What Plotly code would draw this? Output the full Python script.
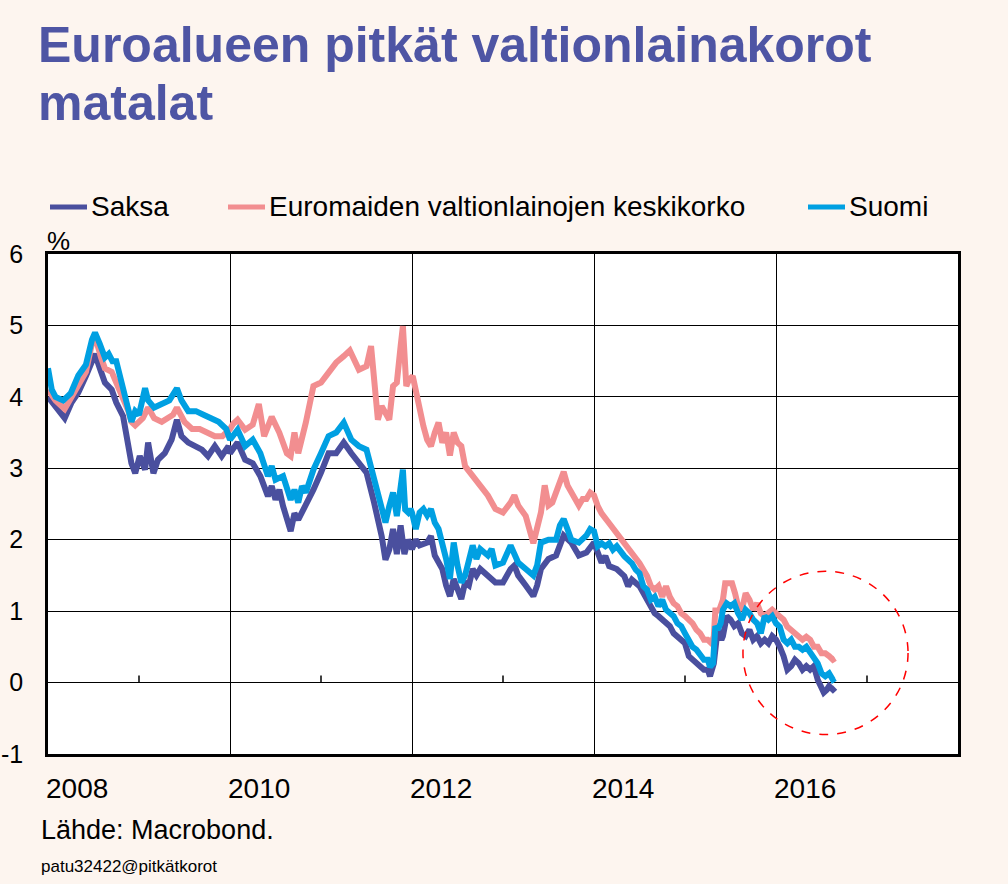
import plotly.graph_objects as go

# ---- data (months since Jan 2008, yield %) ----
saksa_m = [0,1,2.2,3.1,4,5,5.8,6.2,6.9,7.5,8.4,9,9.9,10.6,11,11.5,12.1,12.8,13.2,13.9,14.5,15.4,16.3,17,17.6,18.5,19.4,20.3,21.1,22,22.9,23.8,
           24,25,26,27,28,29,29.5,30,30.5,31,32,32.5,33,34,35,36,37,38,39,40,41,42,43,44,44.5,45,45.5,46,46.5,47,47.5,
           48,48.5,49,50,50.5,51,52,52.5,53,53.5,54,54.5,55,55.5,56,56.5,57,58,59,60,61,61.5,62,63,64,64.5,65,66,67,68,69,70,71,
           72,72.5,73,73.5,74,75,76,76.5,77,78,79,80,80.5,81,81.5,82,82.5,83,84,84.5,85,85.5,86,86.5,87,87.3,87.8,88,88.3,88.8,89,89.5,90,90.5,91,91.5,92,92.5,93,93.5,94,94.5,95,95.5,
           96,96.5,97,97.5,98,98.5,99,99.5,100,100.5,101,101.5,102,102.3,102.7,103,103.5,103.8]
saksa_v = [4.0,3.87,3.7,3.92,4.06,4.29,4.52,4.6,4.38,4.2,4.1,3.92,3.73,3.36,3.07,2.93,3.17,2.98,3.36,2.93,3.12,3.21,3.4,3.68,3.45,3.36,3.31,3.26,3.17,3.31,3.17,3.31,
           3.21,3.36,3.12,3.07,2.89,2.61,2.75,2.56,2.7,2.47,2.12,2.37,2.28,2.47,2.7,2.94,3.21,3.21,3.36,3.21,3.07,2.94,2.52,2.05,1.72,1.86,2.15,1.8,2.2,1.8,2.0,
           1.87,2.0,1.92,1.96,2.05,1.78,1.59,1.36,1.21,1.45,1.31,1.17,1.4,1.36,1.59,1.5,1.59,1.5,1.4,1.4,1.59,1.64,1.5,1.36,1.21,1.36,1.59,1.73,1.78,2.06,1.96,1.78,1.82,
           1.96,1.82,1.68,1.77,1.63,1.59,1.49,1.35,1.44,1.35,1.16,0.97,0.93,0.88,0.83,0.79,0.69,0.65,0.55,0.37,0.32,0.27,0.22,0.18,0.18,0.09,0.27,0.5,0.74,0.6,0.65,0.93,0.88,0.79,0.83,0.69,0.65,0.74,0.6,0.65,0.55,0.6,0.55,0.65,
           0.6,0.5,0.37,0.18,0.23,0.32,0.27,0.18,0.23,0.18,0.23,0.04,-0.1,-0.14,-0.1,-0.05,-0.1,-0.07]

euro_m = [0,1,2.2,3,4,5,5.8,6.2,7,7.5,8.4,9,10,10.6,11,11.5,12.5,13.2,14,15,16.5,17,18,19,20,21,22,23,24,24.4,
          25,26,27,27.8,28.5,29.5,30.5,31.5,32,32.5,33,34,35,36,37,38,39,39.8,41,42,42.6,43,43.5,44,45,45.5,46,46.5,46.8,47.25,47.6,
          48.1,48.6,49,49.5,50,50.5,51,51.5,52,52.5,53,53.5,54,54.5,55,56,57,58,59,60,61,61.5,62,63,64,64.5,65,65.5,66,66.5,67,67.5,68,68.5,69,70,70.5,71,71.5,
          72,72.5,73,74,75,76,77,77.5,78,79,79.5,80,80.5,81,81.5,82,82.5,83,83.5,84,84.5,85,85.5,86,86.5,87,87.5,87.8,88,88.5,89,89.3,89.8,90.2,90.6,91,91.5,92,92.5,93,93.5,94,94.5,95,95.5,
          96,96.5,97,97.5,98,98.5,99,99.5,100,100.5,101,101.5,102,102.5,103,103.5,103.8]
euro_v = [4.1,3.95,3.83,3.98,4.15,4.35,4.75,4.85,4.55,4.4,4.35,4.2,4.0,3.8,3.65,3.6,3.7,3.85,3.7,3.65,3.75,3.85,3.65,3.55,3.55,3.5,3.45,3.45,3.55,3.62,
          3.68,3.54,3.61,3.9,3.45,3.72,3.5,3.21,3.17,3.5,3.21,3.64,4.15,4.2,4.34,4.48,4.57,4.65,4.38,4.43,4.71,4.24,3.68,3.87,3.68,4.15,4.2,4.71,4.99,4.15,4.24,
          4.29,4.0,3.87,3.59,3.4,3.31,3.5,3.64,3.36,3.5,3.18,3.5,3.36,3.31,3.03,2.9,2.76,2.62,2.43,2.38,2.52,2.62,2.48,2.33,1.95,2.19,2.38,2.76,2.48,2.52,2.66,2.76,2.95,2.76,2.66,2.48,2.57,2.57,2.66,
          2.62,2.47,2.37,2.23,2.09,1.95,1.81,1.72,1.67,1.49,1.35,1.3,1.35,1.2,1.35,1.2,1.11,1.07,0.97,0.93,0.88,0.83,0.74,0.69,0.6,0.6,0.55,0.65,1.01,1.01,1.16,1.39,1.39,1.39,1.25,1.07,1.02,1.25,1.16,1.02,1.11,0.97,0.93,0.97,1.02,
          0.97,0.92,0.88,0.78,0.74,0.69,0.64,0.6,0.64,0.6,0.5,0.5,0.41,0.41,0.37,0.32,0.34]

suomi_m = [0,0.5,1,2,2.5,3,4,5,5.8,6.2,6.8,7.5,8,8.5,9,9.5,10,10.6,11,11.5,12,12.8,13.2,14,15,16,17,17.6,18.5,19.5,20.5,21.5,22.5,23.5,
           24,25,26,27,28,29,29.5,30,31,32,32.5,33,33.5,34,35,36,37,38,39,40,41,42,43,44,44.5,45,45.5,46,46.8,47.1,47.5,47.8,
           48,48.5,49,49.5,50,50.5,51,51.5,52,52.5,53,53.5,54,54.5,55,55.5,56,56.5,57,58,58.5,59,60,61,61.5,62,63,64,64.5,65,66,67,67.5,68,68.5,69,70,71,71.5,
           72,72.5,73,73.5,74,74.5,75,76,77,77.5,78,78.5,79,79.5,80,80.5,81,81.5,82,82.5,83,83.5,84,84.5,85,85.5,86,86.5,87,87.3,87.7,88,88.3,88.7,89,89.5,90,90.5,91,91.5,92,92.5,93,93.5,94,94.5,95,95.5,
           96,96.5,97,97.5,98,98.5,99,99.5,100,100.5,101,101.5,102,102.5,103,103.5,103.8]
suomi_v = [4.4,4.1,4.0,3.95,4.0,4.05,4.3,4.45,4.8,4.9,4.75,4.55,4.6,4.5,4.5,4.3,4.05,3.8,3.65,3.8,3.75,4.12,3.95,3.85,3.9,3.95,4.12,3.95,3.8,3.8,3.75,3.7,3.65,3.55,
           3.4,3.54,3.31,3.4,3.21,2.89,3.03,2.84,2.89,2.56,2.7,2.52,2.75,2.66,2.98,3.21,3.45,3.5,3.64,3.4,3.31,3.26,2.84,2.47,2.24,2.47,2.66,2.33,2.98,2.42,2.38,2.43,
           2.38,2.15,2.38,2.43,2.34,2.43,2.24,2.15,1.96,1.73,1.45,1.96,1.64,1.4,1.5,1.68,1.92,1.73,1.87,1.78,1.87,1.64,1.68,1.92,1.82,1.68,1.59,1.5,1.64,1.96,2.0,2.0,2.2,2.29,2.15,2.0,1.96,2.06,2.15,
           2.12,1.91,1.95,1.91,1.95,1.86,1.91,1.77,1.67,1.58,1.53,1.35,1.3,1.16,1.2,1.07,1.16,1.02,0.97,0.93,0.83,0.79,0.69,0.6,0.5,0.46,0.37,0.32,0.32,0.22,0.27,0.79,0.74,0.83,1.02,1.11,1.07,1.11,0.97,0.88,1.02,0.97,0.88,0.83,0.69,0.93,0.88,0.93,
           0.83,0.78,0.6,0.55,0.6,0.5,0.5,0.46,0.5,0.41,0.32,0.27,0.13,0.09,0.13,0.04,0.06]

series_names = ["Saksa", "Euromaiden valtionlainojen keskikorko", "Suomi"]
series_colors = ["#4A4F9E", "#F28E90", "#00A0E2"]
year_labels = [2008, 2010, 2012, 2014, 2016]
minor_tick_years = [2009, 2011, 2013, 2015, 2017]
y_ticks = [-1, 0, 1, 2, 3, 4, 5, 6]

assert len(saksa_m) == len(saksa_v), (len(saksa_m), len(saksa_v))
assert len(euro_m) == len(euro_v), (len(euro_m), len(euro_v))
assert len(suomi_m) == len(suomi_v), (len(suomi_m), len(suomi_v))

def to_year(ms):
    return [2008 + m / 12.0 for m in ms]

FONT = "Liberation Sans, Arial, sans-serif"
BG = "#FDF5EF"
TITLE_COLOR = "#4E55A4"

fig = go.Figure()
for (ms, vs), name, col in zip([(saksa_m, saksa_v), (euro_m, euro_v), (suomi_m, suomi_v)],
                               series_names, series_colors):
    fig.add_trace(go.Scatter(x=to_year(ms), y=vs, mode="lines", name=name,
                             line=dict(color=col, width=6), showlegend=False))

# plot geometry (pixels)
L, R, T, B = 48, 50, 254, 130
W, H = 1008, 884
pw, ph = W - L - R, H - T - B

def px_to_paper_x(px):
    return (px - L) / pw

def px_to_paper_y(py):
    return (H - B - py) / ph

annotations = []
shapes = []

# custom legend
legend_x = [50, 228, 808]
for xpos, name, col in zip(legend_x, series_names, series_colors):
    shapes.append(dict(type="line", xref="paper", yref="paper",
                       x0=px_to_paper_x(xpos), x1=px_to_paper_x(xpos + 37),
                       y0=px_to_paper_y(207), y1=px_to_paper_y(207),
                       line=dict(color=col, width=5)))
    annotations.append(dict(text=name, xref="paper", yref="paper",
                            x=px_to_paper_x(xpos + 39), y=px_to_paper_y(207),
                            xanchor="left", yanchor="middle", showarrow=False,
                            font=dict(family=FONT, size=28, color="black")))

# year labels
for yr in year_labels:
    annotations.append(dict(text=str(yr), xref="x", yref="paper", x=yr + 0.32,
                            y=px_to_paper_y(788), xanchor="center", yanchor="middle",
                            showarrow=False, font=dict(family=FONT, size=28, color="black")))

# minor ticks on zero line
for yr in minor_tick_years:
    shapes.append(dict(type="line", xref="x", yref="y", x0=yr, x1=yr, y0=0, y1=0.1,
                       line=dict(color="black", width=1.5)))

# dashed circle highlight
shapes.append(dict(type="circle", xref="x", yref="y",
                   x0=2015.637, x1=2017.451, y0=-0.728, y1=1.558,
                   line=dict(color="#FF0000", width=1.5, dash="dash")))

# % label
annotations.append(dict(text="%", xref="paper", yref="paper", x=px_to_paper_x(45),
                        y=px_to_paper_y(241), xanchor="left", yanchor="middle",
                        showarrow=False, font=dict(family=FONT, size=26, color="black")))

# title lines
annotations.append(dict(text="<b>Euroalueen pitkät valtionlainakorot</b>", xref="paper", yref="paper",
                        x=px_to_paper_x(36), y=px_to_paper_y(45), xanchor="left", yanchor="middle",
                        showarrow=False, font=dict(family=FONT, size=50, color=TITLE_COLOR)))
annotations.append(dict(text="<b>matalat</b>", xref="paper", yref="paper",
                        x=px_to_paper_x(36), y=px_to_paper_y(103), xanchor="left", yanchor="middle",
                        showarrow=False, font=dict(family=FONT, size=50, color=TITLE_COLOR)))

# source and footer
annotations.append(dict(text="Lähde: Macrobond.", xref="paper", yref="paper",
                        x=px_to_paper_x(39), y=px_to_paper_y(830), xanchor="left", yanchor="middle",
                        showarrow=False, font=dict(family=FONT, size=27, color="black")))
annotations.append(dict(text="patu32422@pitkätkorot", xref="paper", yref="paper",
                        x=px_to_paper_x(39), y=px_to_paper_y(866), xanchor="left", yanchor="middle",
                        showarrow=False, font=dict(family=FONT, size=17, color="black")))

fig.update_layout(
    width=W, height=H,
    margin=dict(l=L, r=R, t=T, b=B, autoexpand=False),
    paper_bgcolor=BG, plot_bgcolor="white",
    font=dict(family=FONT, size=28, color="black"),
    annotations=annotations, shapes=shapes,
    xaxis=dict(range=[2008, 2018], tick0=2008, dtick=2, showticklabels=False,
               showgrid=True, gridcolor="black", gridwidth=1, zeroline=False, automargin=False,
               showline=True, linecolor="black", linewidth=2.5, mirror=True, ticks=""),
    yaxis=dict(range=[-1, 6], tickvals=y_ticks, ticktext=[str(v) for v in y_ticks],
               showgrid=True, gridcolor="black", gridwidth=1, zeroline=False, automargin=False,
               showline=True, linecolor="black", linewidth=2.5, mirror=True, ticks="",
               ticklabelstandoff=17, tickfont=dict(family=FONT, size=25, color="black")),
)

fig.write_html("out.html", config={"displayModeBar": False},
               post_script="document.body.style.margin='0px';document.body.style.background='" + BG + "';")
